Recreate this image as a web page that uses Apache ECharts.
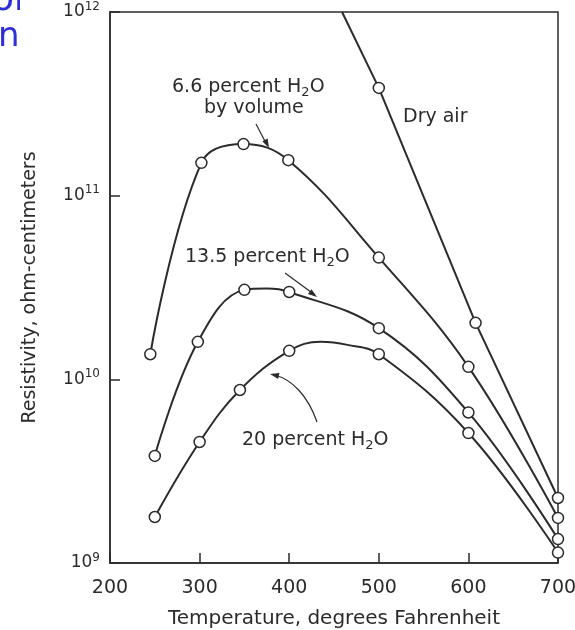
<!DOCTYPE html>
<html><head><meta charset="utf-8">
<script src="https://cdn.jsdelivr.net/npm/echarts@6/dist/echarts.min.js"></script>
<style>html,body{margin:0;padding:0;background:#fff;}#c{width:575px;height:630px;}</style>
</head><body><div id="c"></div>
<script>
// Data (temperature °F, resistivity ohm-cm) — marked points
var dryT   = [459, 500, 608, 700];
var dryV   = [1e12, 3.86e11, 2.03e10, 2.26e9];
var p66T   = [245, 302, 349, 399, 500, 600, 700];
var p66V   = [1.37e10, 1.51e11, 1.91e11, 1.56e11, 4.6e10, 1.17e10, 1.76e9];
var p135T  = [250, 298, 350, 400, 500, 600, 700];
var p135V  = [3.83e9, 1.6e10, 3.07e10, 2.99e10, 1.9e10, 6.6e9, 1.35e9];
var p20T   = [250, 300, 345, 400, 500, 600, 700];
var p20V   = [1.78e9, 4.56e9, 8.75e9, 1.43e10, 1.37e10, 5.1e9, 1.14e9];
// Unmarked points
var p20CurveT = [435, 465];
var p20CurveV = [1.6e10, 1.54e10];
var p135CurveT = [375];
var p135CurveV = [3.12e10];
var xTicks = [200, 300, 400, 500, 600, 700];
var yTicks = [1e9, 1e10, 1e11, 1e12];

var INK = '#2b2b2b';
var FONT = '"DejaVu Sans", "Liberation Sans", sans-serif';

function pts(T, V, cT, cV, hideFirst) {
  var arr = T.map(function (t, i) {
    var d = { value: [t, V[i]] };
    if (hideFirst && i === 0) d.symbol = 'none';
    return d;
  });
  (cT || []).forEach(function (t, i) { arr.push({ value: [t, cV[i]], symbol: 'none' }); });
  arr.sort(function (a, b) { return a.value[0] - b.value[0]; });
  return arr;
}
function mkSeries(name, data, smooth) {
  return {
    name: name, type: 'line', data: data, smooth: smooth,
    symbol: 'circle', symbolSize: 11, showAllSymbol: true,
    lineStyle: { color: INK, width: 2 },
    itemStyle: { color: '#fff', borderColor: INK, borderWidth: 1.5 },
    z: 3
  };
}

var chart = echarts.init(document.getElementById('c'), null, { renderer: 'canvas' });
var sup = { fontSize: 12, verticalAlign: 'top', padding: [0, 0, 11, 0], fontFamily: FONT, color: INK };
chart.setOption({
  animation: false,
  backgroundColor: '#fff',
  grid: { left: 110, right: 17, top: 12, bottom: 67, containLabel: false, outerBoundsMode: 'none',
    show: true, borderColor: INK, borderWidth: 1.5, backgroundColor: 'transparent' },
  xAxis: {
    type: 'value', min: 200, max: 700, interval: 100,
    name: 'Temperature, degrees Fahrenheit', nameLocation: 'middle', nameGap: 46,
    nameTextStyle: { fontSize: 20, color: INK, fontFamily: FONT },
    axisLine: { lineStyle: { color: INK, width: 1.5 } },
    axisTick: { inside: true, length: 10, lineStyle: { color: INK, width: 1.5 } },
    axisLabel: { fontSize: 19, color: INK, fontFamily: FONT, margin: 16,
      formatter: function (v) { return xTicks.indexOf(v) >= 0 ? String(v) : ''; } },
    splitLine: { show: false }
  },
  yAxis: {
    type: 'log', logBase: 10, min: 1e9, max: 1e12,
    name: 'Resistivity, ohm-centimeters', nameLocation: 'middle', nameGap: 70,
    nameTextStyle: { fontSize: 19, color: INK, fontFamily: FONT, padding: [0, 0, 0, 0] },
    axisLine: { lineStyle: { color: INK, width: 1.5 } },
    axisTick: { inside: true, length: 10, lineStyle: { color: INK, width: 1.5 } },
    axisLabel: { fontSize: 17, color: INK, fontFamily: FONT, margin: 10,
      formatter: function (v) {
        var e = Math.round(Math.log10(v));
        return yTicks.indexOf(Math.pow(10, e)) >= 0 ? '10{s|' + e + '}' : '';
      },
      rich: { s: sup } },
    splitLine: { show: false }
  },
  series: [
    mkSeries('Dry air', pts(dryT, dryV, null, null, true), false),
    mkSeries('6.6 percent H2O', pts(p66T, p66V), 0.4),
    mkSeries('13.5 percent H2O', pts(p135T, p135V, p135CurveT, p135CurveV), 0.4),
    mkSeries('20 percent H2O', pts(p20T, p20V, p20CurveT, p20CurveV), 0.4)
  ]
});

// Annotations
var subStyle = { fontSize: 13, fontFamily: FONT, fill: INK, padding: [12, 0, 0, 0] };
var mainStyle = { fontSize: 19, fontFamily: FONT, fill: INK };
function label(x, y, txt) {
  return { type: 'text', x: x, y: y, z: 10,
    style: { text: txt, fill: INK, font: '19px ' + FONT, verticalAlign: 'middle',
      rich: { m: mainStyle, s: subStyle } } };
}
function head(x, y, dx, dy) {
  var L = Math.sqrt(dx * dx + dy * dy), ux = dx / L, uy = dy / L, s = 9, w = 3;
  return { type: 'polygon', z: 10, shape: { points: [
    [x, y], [x - ux * s - uy * w, y - uy * s + ux * w], [x - ux * s + uy * w, y - uy * s - ux * w]] },
    style: { fill: INK } };
}
var g = [
  // blue fragments of surrounding page
  { type: 'text', x: -8, y: -17, z: 0, style: { text: 'or', font: '36px ' + FONT, fill: '#2f2fd8' } },
  { type: 'text', x: -2, y: 20, z: 0, style: { text: 'nd', font: '34px ' + FONT, fill: '#2f2fd8' } },
  { type: 'rect', z: 1, shape: { x: 20, y: 0, width: 40, height: 60 }, style: { fill: '#fff' } },
  label(172, 87, '{m|6.6 percent H}{s|2}{m|O}'),
  label(204, 108, '{m|by volume}'),
  label(403, 117, '{m|Dry air}'),
  label(185, 257, '{m|13.5 percent H}{s|2}{m|O}'),
  label(242, 440, '{m|20 percent H}{s|2}{m|O}'),
  { type: 'line', z: 10, shape: { x1: 256, y1: 124, x2: 267, y2: 145 }, style: { stroke: INK, lineWidth: 1.2 } },
  head(269, 148, 11, 22),
  { type: 'line', z: 10, shape: { x1: 285, y1: 273, x2: 315, y2: 295 }, style: { stroke: INK, lineWidth: 1.2 } },
  head(317, 297, 30, 22),
  { type: 'bezierCurve', z: 10, shape: { x1: 317, y1: 422, cpx1: 308, cpy1: 396, cpx2: 292, cpy2: 379, x2: 274, y2: 375 },
    style: { stroke: INK, lineWidth: 1.2, fill: null } },
  head(270, 374, -18, -4)
];
chart.setOption({ graphic: g });
</script></body></html>
